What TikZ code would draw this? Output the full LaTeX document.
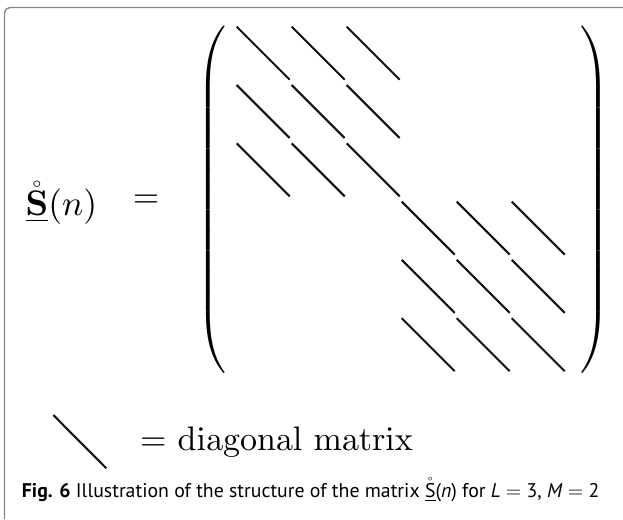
\documentclass[tikz,border=0pt]{standalone}
\usepackage{amsmath}
\usepackage[no-math]{fontspec}
\newfontfamily\capfont{PT Sans}
\DeclareFontShape{OT1}{cmr}{m}{n}{<->cmr10}{}
\DeclareFontShape{OT1}{cmr}{bx}{n}{<->cmbx10}{}
\DeclareFontShape{OML}{cmm}{m}{it}{<->cmmi10}{}
\DeclareFontShape{OMS}{cmsy}{m}{n}{<->cmsy10}{}
\DeclareFontShape{OMX}{cmex}{m}{n}{<->cmex10}{}
\font\legfont=cmr10 at 34pt
\usepackage{tikz}
\usetikzlibrary{positioning}
\definecolor{FrameGray}{HTML}{858585}
\definecolor{BlockInk}{HTML}{111111}
\newcommand{\bigparen}[1]{$\delimiterfactor=1000 \delimitershortfall=0pt #1$}
\tikzset{
  framebox/.style={draw=FrameGray,line width=1.4pt,rounded corners=5.5pt},
  diagline/.style={draw=BlockInk,line width=2.1pt},
  bigtext/.style={inner sep=0pt,font=\fontsize{34}{40}\selectfont},
  captext/.style={inner sep=0pt,font=\capfont\fontsize{19.8}{24}\selectfont}
}
\begin{document}
\begin{tikzpicture}[x=1pt,y=-1pt]
\useasboundingbox (0,0) rectangle (623,519);
\draw[framebox] (4.5,519) -- (4.5,7.5) -- (623,7.5);
\node[bigtext,anchor=base west,font=\fontsize{35.5}{40}\selectfont] (lhs) at (25.5,215.7) {$\underline{\mathring{\mathbf{S}}}(n)$};
\node[bigtext] (eqsign) at (146,201.7) {$=$};
\node[bigtext] (lpar) at (211.5,200) {\bigparen{\left(\vcenter{\hrule height 340pt width 0pt}\right.}};
\node[bigtext] (rpar) at (594.5,200) {\bigparen{\left.\vcenter{\hrule height 340pt width 0pt}\right)}};
\foreach \r in {0,1,2}
  \foreach \c in {0,1,2} {
    \draw[diagline] ({236.7+55*\c},{26.7+58.3*\r}) -- ++(53,53);
    \draw[diagline] ({236.7+55*(\c+3)},{26.7+58.3*(\r+3)}) -- ++(53,53);
  }
\draw[diagline] (53.3,415) -- (106.3,468.3);
\node[inner sep=0pt,anchor=base west] (legtext) at (139.8,450) {\legfont = diagonal matrix};
\node[captext,anchor=base west] (caption) at (21.7,497) {\textbf{Fig. 6} Illustration of the structure of the matrix $\underline{\mathring{\text{S}}}$(\textit{n}) for \textit{L} $=$ 3, \textit{M} $=$ 2};
\end{tikzpicture}
\end{document}
